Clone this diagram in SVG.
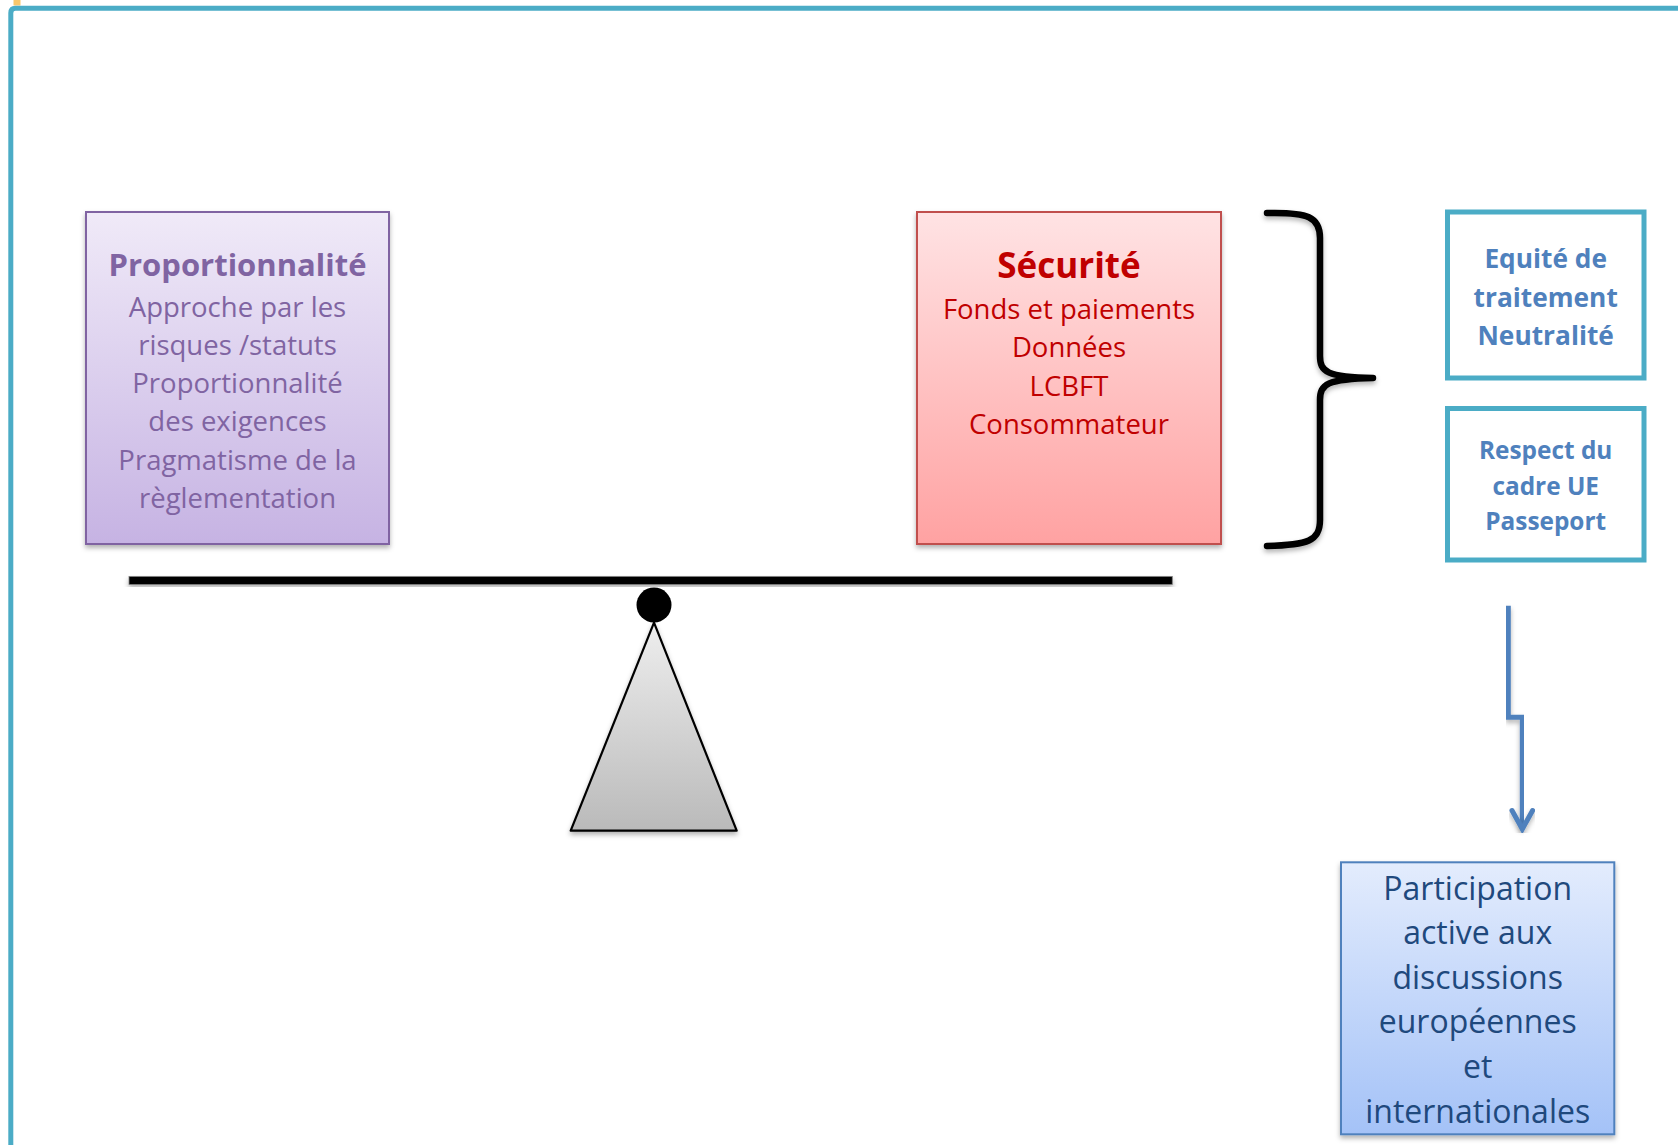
<svg xmlns="http://www.w3.org/2000/svg" width="1678" height="1145" viewBox="0 0 1678 1145">
<style>
  text { font-family: "Open Sans", "Noto Sans", "Liberation Sans", sans-serif; text-anchor: middle; }
  .pt { fill: #8064a2; }
  .rt { fill: #c00000; }
  .bt { fill: #4f81bd; font-weight: bold; }
  .dt { fill: #1f497d; font-size: 32px; }
  .ttl { font-weight: bold; }
  .side { fill: #ffffff; stroke: #4bacc6; stroke-width: 5; }
</style>
<defs>
  <linearGradient id="gPurple" x1="0" y1="0" x2="0" y2="1">
    <stop offset="0" stop-color="#f0eaf8"/>
    <stop offset="1" stop-color="#c6b3e3"/>
  </linearGradient>
  <linearGradient id="gRed" x1="0" y1="0" x2="0" y2="1">
    <stop offset="0" stop-color="#ffe3e4"/>
    <stop offset="1" stop-color="#ffa2a2"/>
  </linearGradient>
  <linearGradient id="gBlue" x1="0" y1="0" x2="0" y2="1">
    <stop offset="0" stop-color="#e3ecfd"/>
    <stop offset="1" stop-color="#a4c2f7"/>
  </linearGradient>
  <linearGradient id="gGray" x1="0" y1="0" x2="0" y2="1">
    <stop offset="0" stop-color="#eeeeee"/>
    <stop offset="1" stop-color="#bababa"/>
  </linearGradient>
  <filter id="shadow" x="-10%" y="-10%" width="120%" height="130%">
    <feDropShadow dx="0" dy="3" stdDeviation="2.5" flood-color="#000000" flood-opacity="0.3"/>
  </filter>
</defs>

<!-- frame -->
<rect x="13.5" y="0" width="7" height="5.5" fill="#f9c76b"/>
<path d="M10.8,1145 L10.8,13 Q10.8,8.2 15.5,8.2 L1678,8.2" fill="none" stroke="#4bacc6" stroke-width="5"/>

<g id="node-proportionnalite">
  <rect x="86" y="212" width="303" height="332" fill="url(#gPurple)" stroke="#8064a2" stroke-width="2" filter="url(#shadow)"/>
  <text class="pt ttl" x="237.5" y="276" font-size="31">Proportionnalité</text>
  <text class="pt" x="237.5" y="316.5" font-size="27.5">Approche par les</text>
  <text class="pt" x="237.5" y="354.8" font-size="27.5">risques /statuts</text>
  <text class="pt" x="237.5" y="393.1" font-size="27.5">Proportionnalité</text>
  <text class="pt" x="237.5" y="431.4" font-size="27.5">des exigences</text>
  <text class="pt" x="237.5" y="469.7" font-size="27.5">Pragmatisme de la</text>
  <text class="pt" x="237.5" y="508" font-size="27.5">règlementation</text>
</g>

<g id="node-securite">
  <rect x="917" y="212" width="304" height="332" fill="url(#gRed)" stroke="#c0504d" stroke-width="2" filter="url(#shadow)"/>
  <text class="rt ttl" x="1069" y="278" font-size="35">Sécurité</text>
  <text class="rt" x="1069" y="319" font-size="27.5">Fonds et paiements</text>
  <text class="rt" x="1069" y="357.3" font-size="27.5">Données</text>
  <text class="rt" x="1069" y="395.6" font-size="27.5">LCBFT</text>
  <text class="rt" x="1069" y="433.9" font-size="27.5">Consommateur</text>
</g>

<g id="node-brace">
  <path d="M1267,213 C1308,212 1320,217 1320,238 L1320,356 C1320,372 1327,377 1373,378 M1373,378 C1327,379 1320,384 1320,400 L1320,520 C1320,541 1308,545 1267,546" fill="none" stroke="#000000" stroke-width="6.5" stroke-linecap="round" filter="url(#shadow)"/>
</g>

<g id="node-equite">
  <rect class="side" x="1447.5" y="212" width="196.5" height="166"/>
  <text class="bt" x="1545.7" y="268" font-size="26.3">Equité de</text>
  <text class="bt" x="1545.7" y="306.5" font-size="26.3">traitement</text>
  <text class="bt" x="1545.7" y="345" font-size="26.3">Neutralité</text>
</g>

<g id="node-respect">
  <rect class="side" x="1447.5" y="408.5" width="196.5" height="151.5"/>
  <text class="bt" x="1545.7" y="459" font-size="24.4">Respect du</text>
  <text class="bt" x="1545.7" y="494.7" font-size="24.4">cadre UE</text>
  <text class="bt" x="1545.7" y="530.2" font-size="24.4">Passeport</text>
</g>

<g id="node-participation">
  <rect x="1341" y="862.3" width="273.3" height="272" fill="url(#gBlue)" stroke="#4f81bd" stroke-width="2" filter="url(#shadow)"/>
  <text class="dt" x="1477.7" y="899.5">Participation</text>
  <text class="dt" x="1477.7" y="944.1">active aux</text>
  <text class="dt" x="1477.7" y="988.7">discussions</text>
  <text class="dt" x="1477.7" y="1033.3">européennes</text>
  <text class="dt" x="1477.7" y="1077.9">et</text>
  <text class="dt" x="1477.7" y="1122.5">internationales</text>
</g>

<g id="node-balance">
  <rect x="129" y="576.5" width="1043.3" height="8" fill="#000000" stroke="#7f7f7f" stroke-width="0.8" filter="url(#shadow)"/>
  <polygon points="654,622.7 570.7,830.7 736.7,830.7" fill="url(#gGray)" stroke="#000000" stroke-width="2.2" stroke-linejoin="round" filter="url(#shadow)"/>
  <circle cx="654" cy="605" r="17.5" fill="#000000"/>
</g>

<g id="connectors">
  <path d="M1508.3,605.7 L1508.3,717.3 L1522.3,717.3 L1522.3,828" fill="none" stroke="#4f81bd" stroke-width="5" filter="url(#shadow)"/>
  <path d="M1512,810.5 L1522.3,829 L1532.6,810.5" fill="none" stroke="#4f81bd" stroke-width="5" stroke-linecap="round" stroke-linejoin="miter" filter="url(#shadow)"/>
</g>
</svg>
